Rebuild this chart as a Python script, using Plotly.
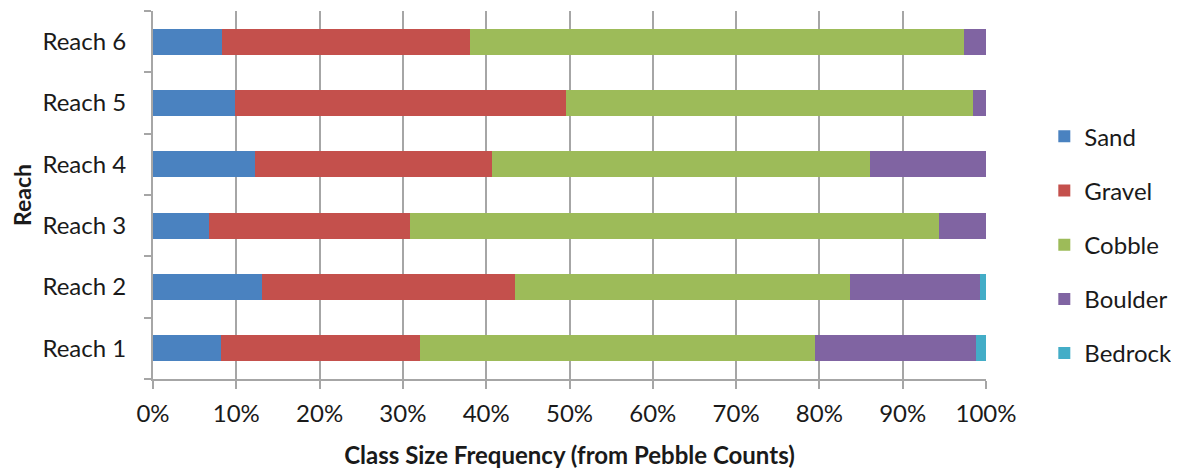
import plotly.graph_objects as go

reaches = ["Reach 1", "Reach 2", "Reach 3", "Reach 4", "Reach 5", "Reach 6"]
sand = [8.2, 13.1, 6.7, 12.2, 9.9, 8.3]
gravel = [23.9, 30.4, 24.2, 28.5, 39.7, 29.7]
cobble = [47.4, 40.2, 63.5, 45.4, 48.8, 59.3]
boulder = [19.3, 15.6, 5.6, 13.9, 1.6, 2.7]
bedrock = [1.2, 0.7, 0.0, 0.0, 0.0, 0.0]

series = [
    ("Sand", sand, "#4A82C0"),
    ("Gravel", gravel, "#C4504C"),
    ("Cobble", cobble, "#9DBB59"),
    ("Boulder", boulder, "#8064A2"),
    ("Bedrock", bedrock, "#43ADC7"),
]

FONT = "Lato"

fig = go.Figure()
for name, vals, color in series:
    fig.add_trace(go.Bar(
        y=reaches, x=[v / 100 for v in vals], name=name, orientation="h",
        marker={"color": color, "line": {"width": 0}},
        legendgroup=name,
    ))

# page body adds an 8px margin, so the figure is 8px smaller than the window
fig.update_layout(
    barmode="stack",
    bargap=0.58,
    width=1171, height=461,
    margin={"l": 145, "r": 193, "t": 3, "b": 90, "autoexpand": False},
    plot_bgcolor="white", paper_bgcolor="white",
    font={"family": FONT, "size": 24, "color": "#1a1a1a"},
    legend={
        "x": 1.07, "y": 0.365, "xanchor": "left", "yanchor": "middle",
        "traceorder": "grouped", "tracegroupgap": 20,
        "font": {"size": 24}, "itemwidth": 30,
    },
)
fig.update_xaxes(
    range=[0, 1], tickformat=".0%", dtick=0.1,
    showgrid=True, gridcolor="#A6A6A6", gridwidth=2,
    showline=True, linecolor="#A6A6A6", linewidth=2,
    ticks="outside", ticklen=8, tickcolor="#A6A6A6", tickwidth=2,
    ticklabelstandoff=4,
    title={"text": "<b>Class Size Frequency (from Pebble Counts)</b>",
           "font": {"size": 24}, "standoff": 27},
    zeroline=False, automargin=False,
)
fig.update_yaxes(
    showline=True, linecolor="#A6A6A6", linewidth=2,
    ticks="outside", tickson="boundaries", ticklen=7, tickcolor="#A6A6A6", tickwidth=2,
    ticklabelstandoff=20,
    showgrid=False, automargin=False,
    title={"text": "<b>Reach</b>", "font": {"size": 23}, "standoff": 6},
)

fig.write_html("out.html")
